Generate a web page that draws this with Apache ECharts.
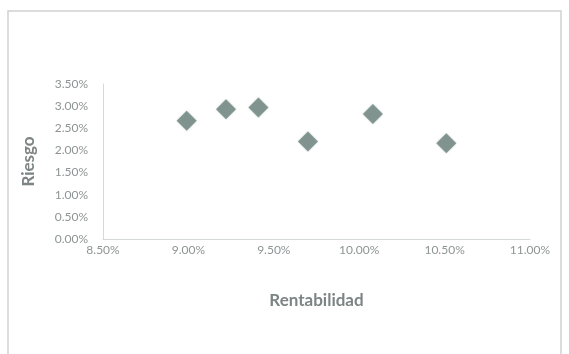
<!DOCTYPE html>
<html>
<head>
<meta charset="utf-8">
<script src="https://cdn.jsdelivr.net/npm/echarts@6/dist/echarts.min.js"></script>
<style>
  html, body { margin: 0; padding: 0; background: #ffffff; }
  #chart { width: 569px; height: 354px; }
</style>
</head>
<body>
<div id="chart"></div>
<script>
// Rentabilidad (x, %) vs Riesgo (y, %) for each portfolio
const rentabilidad = [8.99, 9.22, 9.41, 9.70, 10.08, 10.51];
const riesgo = [2.67, 2.93, 2.97, 2.20, 2.82, 2.16];

const xTicks = { min: 8.5, max: 11.0, step: 0.5 };
const yTicks = { min: 0, max: 3.5, step: 0.5 };

const points = rentabilidad.map((x, i) => [x, riesgo[i]]);
const pct = v => v.toFixed(2) + '%';

const chart = echarts.init(document.getElementById('chart'));
chart.setOption({
  backgroundColor: '#ffffff',
  textStyle: { fontFamily: 'Lato, "Open Sans", sans-serif' },
  graphic: [{
    type: 'rect',
    shape: { x: 8, y: 11, width: 553, height: 360 },
    style: { fill: 'none', stroke: '#cfd2d2', lineWidth: 1.5 },
    silent: true
  }],
  grid: { left: 103, top: 84, right: 39, bottom: 115 },
  xAxis: {
    type: 'value',
    min: xTicks.min, max: xTicks.max, interval: xTicks.step,
    name: 'Rentabilidad',
    nameLocation: 'middle',
    nameGap: 53,
    nameTextStyle: { color: '#7d8484', fontSize: 17, fontWeight: 'bold' },
    axisLine: { show: true, lineStyle: { color: '#d6d9d9', width: 1 } },
    axisTick: { show: false },
    splitLine: { show: false },
    axisLabel: { color: '#8e9494', fontSize: 12, margin: 5, formatter: pct }
  },
  yAxis: {
    type: 'value',
    min: yTicks.min, max: yTicks.max, interval: yTicks.step,
    name: 'Riesgo',
    nameLocation: 'middle',
    nameGap: 66,
    nameTextStyle: { color: '#7d8484', fontSize: 17, fontWeight: 'bold' },
    axisLine: { show: true, lineStyle: { color: '#d6d9d9', width: 1 } },
    axisTick: { show: false },
    splitLine: { show: false },
    axisLabel: { color: '#8e9494', fontSize: 12, margin: 15, formatter: pct }
  },
  series: [{
    type: 'scatter',
    data: points,
    symbol: 'diamond',
    symbolSize: 20,
    itemStyle: { color: '#6e8580', shadowBlur: 2, shadowColor: 'rgba(110,133,128,0.5)' }
  }]
});
</script>
</body>
</html>
